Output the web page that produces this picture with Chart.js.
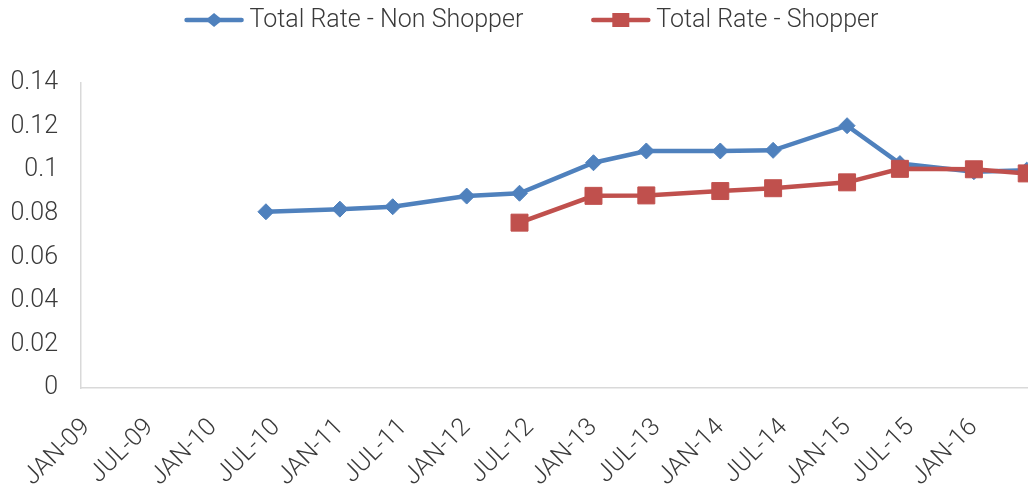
<!DOCTYPE html>
<html>
<head>
<meta charset="utf-8">
<script src="https://cdn.jsdelivr.net/npm/chart.js@4/dist/chart.umd.min.js"></script>
<style>
  html, body { margin: 0; padding: 0; background: #fff; overflow: hidden; }
  #wrap { position: relative; width: 1062px; height: 485px; }
</style>
</head>
<body>
<div id="wrap"><canvas id="rateChart"></canvas></div>
<script>
const xTickLabels = ["JAN-09", "JUL-09", "JAN-10", "JUL-10", "JAN-11", "JUL-11", "JAN-12", "JUL-12",
  "JAN-13", "JUL-13", "JAN-14", "JUL-14", "JAN-15", "JUL-15", "JAN-16"];
const yTickLabels = ["0", "0.02", "0.04", "0.06", "0.08", "0.1", "0.12", "0.14"];

const periods = ["JUN-10", "JAN-11", "JUN-11", "JAN-12", "JUN-12", "JAN-13", "JUN-13",
  "JAN-14", "JUN-14", "JAN-15", "JUN-15", "JAN-16", "JUN-16"];
const nonShopper = [0.0809, 0.0821, 0.0832, 0.0881, 0.0894, 0.1034, 0.1088, 0.1088, 0.1091, 0.1204, 0.1030, 0.0993, 0.1000];
const shopper = [null, null, null, null, 0.0759, 0.0882, 0.0884, 0.0904, 0.0917, 0.0944, 0.1006, 0.1004, 0.0985];

const BLUE = "#4f81bd";
const RED = "#c0504d";
const TEXT = "#3a3a3a";
const FONT = "Roboto, 'Liberation Sans', sans-serif";

const MONTHS = ["JAN", "FEB", "MAR", "APR", "MAY", "JUN", "JUL", "AUG", "SEP", "OCT", "NOV", "DEC"];

// months since Jan 2009, placed mid-month like an Excel date axis
function monthPos(label) {
  const [mon, yy] = label.split("-");
  return (Number(yy) - 9) * 12 + MONTHS.indexOf(mon) + 0.5;
}

function toPoints(values) {
  return periods
    .map((p, i) => ({ x: monthPos(p), y: values[i] }))
    .filter(pt => pt.y !== null);
}

const legendPlugin = {
  id: "lineLegend",
  afterDraw(chart) {
    const ctx = chart.ctx;
    const lineLen = 59;
    const textGap = 6;
    const itemGap = 68;
    const centerX = 531.5;
    const y = 20;

    ctx.save();
    ctx.font = "300 25px " + FONT;
    ctx.textBaseline = "middle";
    const items = chart.data.datasets.map(ds => ({ ds, w: ctx.measureText(ds.label).width }));
    const total = items.reduce((s, it) => s + lineLen + textGap + it.w, 0) + itemGap * (items.length - 1);
    let x = centerX - total / 2;

    items.forEach(({ ds, w }) => {
      ctx.strokeStyle = ds.borderColor;
      ctx.fillStyle = ds.borderColor;
      ctx.lineWidth = 4.5;
      ctx.lineCap = "round";
      ctx.beginPath();
      ctx.moveTo(x + 2, y);
      ctx.lineTo(x + lineLen - 2, y);
      ctx.stroke();

      const mx = x + lineLen / 2;
      ctx.beginPath();
      if (ds.pointStyle === "rectRot") {
        ctx.moveTo(mx - 8.5, y);
        ctx.lineTo(mx, y - 7);
        ctx.lineTo(mx + 8.5, y);
        ctx.lineTo(mx, y + 7);
      } else {
        ctx.rect(mx - 8.5, y - 7, 17, 14);
      }
      ctx.closePath();
      ctx.fill();

      ctx.fillStyle = TEXT;
      ctx.fillText(ds.label, x + lineLen + textGap, y + 1);
      x += lineLen + textGap + w + itemGap;
    });
    ctx.restore();
  }
};

new Chart(document.getElementById("rateChart"), {
  type: "line",
  data: {
    datasets: [
      {
        label: "Total Rate - Non Shopper",
        data: toPoints(nonShopper),
        borderColor: BLUE,
        backgroundColor: BLUE,
        borderWidth: 4.5,
        pointStyle: "rectRot",
        pointRadius: 8,
        pointBorderWidth: 1,
        tension: 0,
        order: 1,
      },
      {
        label: "Total Rate - Shopper",
        data: toPoints(shopper),
        borderColor: RED,
        backgroundColor: RED,
        borderWidth: 4.5,
        pointStyle: "rect",
        pointRadius: 12,
        pointBorderWidth: 1,
        tension: 0,
        order: 0,
      },
    ],
  },
  options: {
    responsive: true,
    maintainAspectRatio: false,
    animation: false,
    events: [],
    layout: {
      padding: { top: 83, left: 0, right: 30, bottom: 0 },
    },
    plugins: {
      legend: { display: false },
      tooltip: { enabled: false },
    },
    scales: {
      x: {
        type: "linear",
        min: 0,
        max: 90,
        afterBuildTicks: scale => {
          scale.ticks = xTickLabels.map(l => ({ value: monthPos(l) }));
        },
        afterFit: scale => {
          scale.height = 97;
        },
        grid: { display: false, drawTicks: false },
        border: { display: true, color: "#d9d9d9", width: 1.5 },
        ticks: {
          autoSkip: false,
          minRotation: 45,
          maxRotation: 45,
          padding: 25,
          color: TEXT,
          font: { family: FONT, size: 25, weight: 300 },
          callback: (value, index) => xTickLabels[index],
        },
      },
      y: {
        min: 0,
        max: 0.14,
        afterFit: scale => {
          scale.width = 81;
        },
        grid: { display: false, drawTicks: false },
        border: { display: true, color: "#d9d9d9", width: 1.5 },
        ticks: {
          stepSize: 0.02,
          padding: 23,
          color: TEXT,
          font: { family: FONT, size: 25, weight: 300 },
          callback: (value, index) => yTickLabels[index],
        },
      },
    },
  },
  plugins: [legendPlugin],
});
</script>
</body>
</html>
